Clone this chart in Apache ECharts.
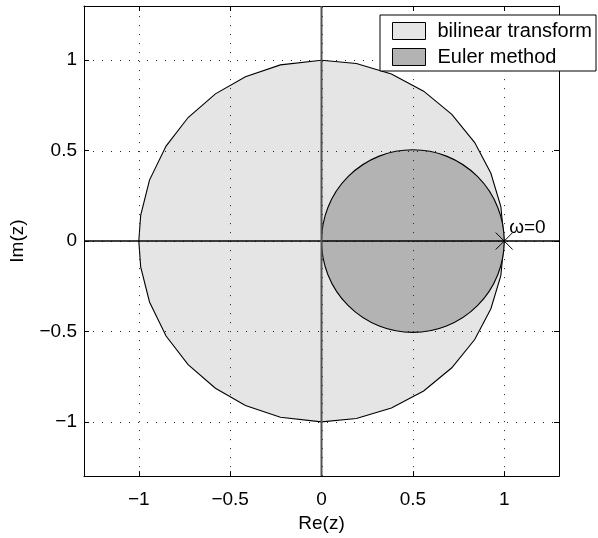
<!DOCTYPE html>
<html>
<head>
<meta charset="utf-8">
<script src="https://cdn.jsdelivr.net/npm/echarts@6/dist/echarts.min.js"></script>
<style>
  html, body { margin: 0; padding: 0; background: #fff; }
  #chart { width: 598px; height: 538px; }
</style>
</head>
<body>
<div id="chart"></div>
<script>
// Stability regions in the z-plane
const seriesNames = ['bilinear transform', 'Euler method'];

// Bilinear transform: unit circle outline, vertex angles (degrees) of the upper half
const bilinearRadius = 1;
const bilinearCenter = [0, 0];
const bilinearAnglesUpper = [0, 11, 22, 33, 44.5, 56, 67.5, 79, 90, 103, 114.6, 125.5, 136.9, 148.3, 160.3, 171.8, 180];

// Euler method: circle centred at 0.5 with radius 0.5
const eulerCenter = [0.5, 0];
const eulerRadius = 0.5;

// Marker for omega = 0
const omegaZeroPoint = [1, 0];
const omegaZeroLabel = 'ω=0';

// Axis range, tick positions and labels
const axisMin = -1.3;
const axisMax = 1.3;
const tickValues = [-1, -0.5, 0, 0.5, 1];
const xAxisName = 'Re(z)';
const yAxisName = 'Im(z)';

const FONT = "'Liberation Sans', Arial, Helvetica, sans-serif";
const tickFmt = v => (tickValues.some(t => Math.abs(t - v) < 1e-9) ? String(v).replace('-', '\u2212') : '');

// full polygon angle list: upper half then mirrored lower half
const bilinearAngles = bilinearAnglesUpper.concat(
  bilinearAnglesUpper.slice(1, -1).reverse().map(a => -a)
);

const chart = echarts.init(document.getElementById('chart'), null, { renderer: 'canvas' });

const mainX = {
  type: 'value', min: axisMin, max: axisMax, splitNumber: 5, z: 6,
  axisLine: { show: true, onZero: false, lineStyle: { color: '#000', width: 1 } },
  axisTick: { show: true, inside: true, length: 5, lineStyle: { color: '#000' } },
  axisLabel: { show: true, formatter: tickFmt, showMinLabel: false, showMaxLabel: false,
               color: '#000', fontSize: 19, fontFamily: FONT, margin: 14 },
  splitLine: { show: false },
  name: xAxisName, nameLocation: 'middle', nameGap: 36,
  nameTextStyle: { color: '#000', fontSize: 19, fontFamily: FONT }
};
const mainY = {
  type: 'value', min: axisMin, max: axisMax, splitNumber: 5, z: 6,
  axisLine: { show: true, onZero: false, lineStyle: { color: '#000', width: 1 } },
  axisTick: { show: true, inside: true, length: 5, lineStyle: { color: '#000' } },
  axisLabel: { show: true, formatter: tickFmt, showMinLabel: false, showMaxLabel: false,
               color: '#000', fontSize: 19, fontFamily: FONT, margin: 7 },
  splitLine: { show: false },
  name: yAxisName, nameLocation: 'middle', nameGap: 57, nameRotate: 90,
  nameTextStyle: { color: '#000', fontSize: 19, fontFamily: FONT }
};
const mirrorAxis = (pos) => ({
  type: 'value', min: axisMin, max: axisMax, splitNumber: 5, position: pos, z: 6,
  axisLine: { show: true, onZero: false, lineStyle: { color: '#000', width: 1 } },
  axisTick: { show: true, inside: true, length: 5, lineStyle: { color: '#000' } },
  axisLabel: { show: false }, splitLine: { show: false }
});

// filled regions and the dotted grid are drawn by one custom series so the grid
// is painted last, above both fills
const regionSeries = {
  name: 'regions', type: 'custom', z: 2, silent: true,
  data: [[0]],
  renderItem: (params, api) => {
    const poly = bilinearAngles.map(a => {
      const t = a * Math.PI / 180;
      return api.coord([bilinearCenter[0] + bilinearRadius * Math.cos(t),
                        bilinearCenter[1] + bilinearRadius * Math.sin(t)]);
    });
    const ec = api.coord(eulerCenter);
    const er = api.size([eulerRadius, 0])[0];
    const children = [
      { type: 'polygon', z2: 1, shape: { points: poly },
        style: { fill: '#e5e5e5', stroke: '#000', lineWidth: 1.1 } },
      { type: 'circle', z2: 2, shape: { cx: ec[0], cy: ec[1], r: er },
        style: { fill: '#b3b3b3', stroke: '#000', lineWidth: 1.1 } }
    ];
    const dot = { stroke: '#262626', lineWidth: 1, lineDash: [1, 8] };
    tickValues.forEach(v => {
      const a = api.coord([v, axisMin]), b = api.coord([v, axisMax]);
      const c = api.coord([axisMin, v]), d = api.coord([axisMax, v]);
      const sx = Math.round(a[0]) + 0.5, sy = Math.round(c[1]) + 0.5;
      children.push({ type: 'line', z2: 10, shape: { x1: sx, y1: a[1], x2: sx, y2: b[1] }, style: dot });
      children.push({ type: 'line', z2: 10, shape: { x1: c[0], y1: sy, x2: d[0], y2: sy }, style: dot });
    });
    return { type: 'group', children };
  }
};

const option = {
  backgroundColor: '#fff',
  animation: false,
  grid: { left: 83, top: 6, width: 476, height: 474, containLabel: false },
  xAxis: [mainX, mirrorAxis('top')],
  yAxis: [mainY, mirrorAxis('right')],
  legend: {
    orient: 'vertical', left: 380, top: 15, z: 30,
    padding: [6, 4, 4, 12], itemGap: 6,
    itemWidth: 33, itemHeight: 17, icon: 'rect',
    backgroundColor: '#fff', borderColor: '#000', borderWidth: 1, borderRadius: 0,
    textStyle: { color: '#000', fontSize: 20, fontFamily: FONT, padding: [0, 0, 0, 7] },
    data: [
      { name: seriesNames[0], itemStyle: { color: '#e5e5e5', borderColor: '#000', borderWidth: 1 } },
      { name: seriesNames[1], itemStyle: { color: '#b3b3b3', borderColor: '#000', borderWidth: 1 } }
    ]
  },
  series: [
    // legend entries
    { name: seriesNames[0], type: 'line', data: [], itemStyle: { color: '#e5e5e5' } },
    { name: seriesNames[1], type: 'line', data: [], itemStyle: { color: '#b3b3b3' } },
    regionSeries,
    {
      name: 'real axis', type: 'line', z: 8, symbol: 'none', silent: true,
      data: [[axisMin, 0], [axisMax, 0]],
      lineStyle: { color: '#000', width: 1.5 }
    },
    {
      name: 'imaginary axis', type: 'line', z: 8, symbol: 'none', silent: true,
      data: [[0, axisMin], [0, axisMax]],
      lineStyle: { color: '#555', width: 2 }
    },
    {
      name: 'omega zero', type: 'scatter', z: 9, silent: true,
      data: [omegaZeroPoint],
      symbol: 'path://M0,0L10,10M10,0L0,10', symbolSize: 17,
      itemStyle: { color: 'none', borderColor: '#000', borderWidth: 1, opacity: 1 },
      label: {
        show: true, formatter: omegaZeroLabel, position: [16, -12],
        align: 'left', verticalAlign: 'top',
        color: '#000', textBorderWidth: 0, fontSize: 19, fontFamily: FONT
      }
    }
  ]
};

chart.setOption(option);
</script>
</body>
</html>
